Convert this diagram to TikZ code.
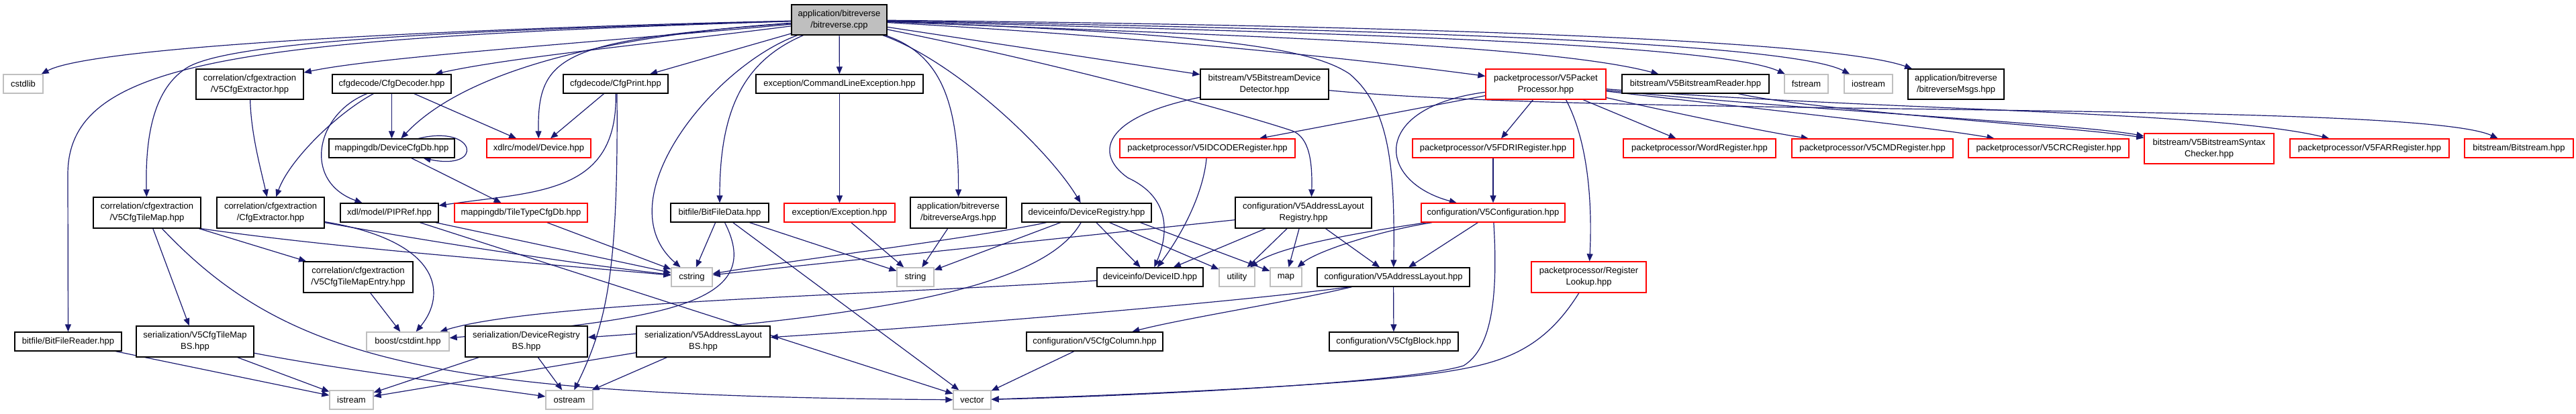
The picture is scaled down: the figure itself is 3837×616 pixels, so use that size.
\documentclass[tikz,border=0pt]{standalone}
\usepackage{fontspec}
\setmainfont{Liberation Sans}
\usetikzlibrary{arrows.meta,calc}
\pgfdeclarelayer{bg}
\pgfsetlayers{bg,main}
\definecolor{edgec}{HTML}{191970}
\definecolor{grayb}{HTML}{BFBFBF}
\definecolor{redb}{HTML}{FF0000}
\begin{document}
\begin{tikzpicture}[x=0.5pt,y=-0.5pt,
 nd/.style={draw=black,line width=0.65pt,fill=white,inner sep=0pt,align=center,font=\fontsize{6.5pt}{8.5pt}\selectfont},
 sys/.style={nd,draw=grayb},
 trunc/.style={nd,draw=redb},
 sz/.style 2 args={minimum width=#1*0.5pt,minimum height=#2*0.5pt},
 ed/.style={draw=edgec,line width=0.6pt,-{Triangle[length=5.5pt,width=4.5pt]}}]
\useasboundingbox (0,0) rectangle (3837,616);
% row 0
\node[nd,fill=grayb,sz={142}{45}] (root) at (1250,29.5) {application/bitreverse\\/bitreverse.cpp};
% row 1
\node[sys,sz={59}{28}] (cstdlib) at (34.5,125) {cstdlib};
\node[nd,sz={160}{45}] (cfgext5) at (372,125.5) {correlation/cfgextraction\\/V5CfgExtractor.hpp};
\node[nd,sz={177}{28}] (cfgdec) at (583.5,125) {cfgdecode/CfgDecoder.hpp};
\node[nd,sz={156}{28}] (cfgprint) at (917,125) {cfgdecode/CfgPrint.hpp};
\node[nd,sz={249}{28}] (cmdexc) at (1250.5,125) {exception/CommandLineException.hpp};
\node[nd,sz={191}{45}] (detector) at (1883.5,125.5) {bitstream/V5BitstreamDevice\\Detector.hpp};
\node[trunc,sz={179}{45}] (pktproc) at (2302.5,125.5) {packetprocessor/V5Packet\\Processor.hpp};
\node[nd,sz={219}{28}] (reader) at (2525.5,125) {bitstream/V5BitstreamReader.hpp};
\node[sys,sz={65}{28}] (fstream) at (2690.5,125) {fstream};
\node[sys,sz={72}{28}] (iostream) at (2783,125) {iostream};
\node[nd,sz={143}{45}] (msgs) at (2913.5,125.5) {application/bitreverse\\/bitreverseMsgs.hpp};
% row 2
\node[nd,sz={187}{28}] (devcfgdb) at (583.5,221) {mappingdb/DeviceCfgDb.hpp};
\node[trunc,sz={155}{28}] (device) at (802.5,221) {xdlrc/model/Device.hpp};
\node[trunc,sz={261}{28}] (idcode) at (1798.5,221) {packetprocessor/V5IDCODERegister.hpp};
\node[trunc,sz={240}{28}] (fdri) at (2224,221) {packetprocessor/V5FDRIRegister.hpp};
\node[trunc,sz={227}{28}] (wordreg) at (2531.5,221) {packetprocessor/WordRegister.hpp};
\node[trunc,sz={240}{28}] (cmdreg) at (2789,221) {packetprocessor/V5CMDRegister.hpp};
\node[trunc,sz={239}{28}] (crcreg) at (3051.5,221) {packetprocessor/V5CRCRegister.hpp};
\node[trunc,sz={193}{45}] (syntax) at (3290.5,221.5) {bitstream/V5BitstreamSyntax\\Checker.hpp};
\node[trunc,sz={237}{28}] (farreg) at (3529.5,221) {packetprocessor/V5FARRegister.hpp};
\node[trunc,sz={162}{28}] (bitstream) at (3752,221) {bitstream/Bitstream.hpp};
% row 3
\node[nd,sz={160}{46}] (tilemap) at (219,317) {correlation/cfgextraction\\/V5CfgTileMap.hpp};
\node[nd,sz={160}{46}] (cfgextr) at (403,317) {correlation/cfgextraction\\/CfgExtractor.hpp};
\node[nd,sz={146}{28}] (pipref) at (580,317) {xdl/model/PIPRef.hpp};
\node[trunc,sz={198}{28}] (tiletype) at (776,317) {mappingdb/TileTypeCfgDb.hpp};
\node[nd,sz={146}{28}] (bfdata) at (1072,317) {bitfile/BitFileData.hpp};
\node[trunc,sz={165}{28}] (exc) at (1250.5,317) {exception/Exception.hpp};
\node[nd,sz={143}{46}] (args) at (1427.5,317) {application/bitreverse\\/bitreverseArgs.hpp};
\node[nd,sz={193}{28}] (devreg) at (1618.5,317) {deviceinfo/DeviceRegistry.hpp};
\node[nd,sz={203}{46}] (alreg) at (1941.5,317) {configuration/V5AddressLayout\\Registry.hpp};
\node[trunc,sz={214}{28}] (v5conf) at (2224,317) {configuration/V5Configuration.hpp};
\node[trunc,sz={171}{46}] (reglookup) at (2366.5,413) {packetprocessor/Register\\Lookup.hpp};
% row 4
\node[nd,sz={163}{46}] (tmentry) at (533.5,413) {correlation/cfgextraction\\/V5CfgTileMapEntry.hpp};
\node[sys,sz={61}{28}] (cstring) at (1030.5,413) {cstring};
\node[sys,sz={55}{28}] (string) at (1363.5,413) {string};
\node[nd,sz={158}{28}] (devid) at (1713,413) {deviceinfo/DeviceID.hpp};
\node[sys,sz={53}{28}] (utility) at (1842.5,413) {utility};
\node[sys,sz={47}{28}] (map) at (1915.5,413) {map};
\node[nd,sz={227}{28}] (addrlayout) at (2075.5,413) {configuration/V5AddressLayout.hpp};
% row 5
\node[nd,sz={159}{28}] (bfreader) at (101.5,509) {bitfile/BitFileReader.hpp};
\node[nd,sz={175}{46}] (tmbs) at (290.5,509) {serialization/V5CfgTileMap\\BS.hpp};
\node[sys,sz={123}{28}] (boost) at (607.5,509) {boost/cstdint.hpp};
\node[nd,sz={182}{46}] (drbs) at (784,509) {serialization/DeviceRegistry\\BS.hpp};
\node[nd,sz={199}{46}] (albs) at (1047.5,509) {serialization/V5AddressLayout\\BS.hpp};
\node[nd,sz={203}{28}] (cfgcol) at (1630.5,509) {configuration/V5CfgColumn.hpp};
\node[nd,sz={192}{28}] (cfgblock) at (2076,509) {configuration/V5CfgBlock.hpp};
% row 6
\node[sys,sz={65}{28}] (istream) at (523.5,596) {istream};
\node[sys,sz={70}{28}] (ostream) at (848,596) {ostream};
\node[sys,sz={56}{28}] (vector) at (1448,596) {vector};

\begin{pgfonlayer}{bg}
\fill[white] (0,0) rectangle (3837,616);
% root
\draw[ed] (root) .. controls (700,42) and (140,68) .. (cstdlib);
\draw[ed] (root) .. controls (900,62) and (560,85) .. (cfgext5);
\draw[ed] (root) .. controls (700,45) and (350,60) .. (280,100) .. controls (230,130) and (216,200) .. (tilemap);
\draw[ed] (root) .. controls (350,58) and (101,90) .. (101,260) -- (bfreader);
\draw[ed] (root) .. controls (1000,62) and (760,85) .. (cfgdec);
\draw[ed] (root) .. controls (800,60) and (660,140) .. (devcfgdb);
\draw[ed] (root) .. controls (840,60) and (800,80) .. (device);
\draw[ed] (root) -- (cfgprint);
\draw[ed] (root) -- (cmdexc);
\draw[ed] (root) .. controls (1110,90) and (1072,160) .. (bfdata);
\draw[ed] (root) .. controls (1060,100) and (900,300) .. (cstring);
\draw[ed] (root) .. controls (1400,80) and (1428,150) .. (args);
\draw[ed] (root) .. controls (1420,90) and (1560,220) .. (devreg);
\draw[ed] (root) .. controls (1600,100) and (1850,170) .. (1925,195) .. controls (1950,205) and (1955,240) .. ($(alreg.north)+(12,0)$);
\draw[ed] (root) -- (detector);
\draw[ed] (root) .. controls (1800,50) and (1950,70) .. (2010,110) .. controls (2070,160) and (2078,250) .. (addrlayout);
\draw[ed] (root) .. controls (1700,55) and (2000,85) .. (pktproc);
\draw[ed] (root) .. controls (1800,52) and (2300,65) .. (reader);
\draw[ed] (root) .. controls (1800,45) and (2550,60) .. (fstream);
\draw[ed] (root) .. controls (1800,40) and (2650,55) .. (iostream);
\draw[ed] (root) .. controls (1800,35) and (2700,50) .. (msgs);
% others
\draw[ed] (cfgext5) .. controls (374,200) and (388,250) .. (cfgextr);
\draw[ed] (cfgdec) -- (devcfgdb);
\draw[ed] (cfgdec) -- (device);
\draw[ed] (cfgdec) .. controls (500,170) and (430,240) .. (cfgextr);
\draw[ed] (cfgdec) .. controls (470,170) and (450,270) .. (pipref);
\draw[ed] ($(devcfgdb.north)+(40,0)$) .. controls (710,185) and (722,255) .. ($(devcfgdb.south)+(47,0)$);
\draw[ed] (devcfgdb) -- (tiletype);
\draw[ed] (cfgprint) -- (device);
\draw[ed] (cfgprint) .. controls (920,290) and (800,285) .. (pipref);
\draw[ed] ($(cfgprint.south)+(2,0)$) .. controls (921,400) and (905,480) .. (ostream);
\draw[ed] (cmdexc) -- (exc);
\draw[ed] (detector) .. controls (1640,175) and (1630,230) .. (1680,265) .. controls (1745,295) and (1740,350) .. (devid);
\draw[ed] (detector) .. controls (2400,175) and (3600,150) .. (bitstream);
\draw[ed] (pktproc) -- (idcode);
\draw[ed] (pktproc) -- (fdri);
\draw[ed] (pktproc) -- (wordreg);
\draw[ed] (pktproc) .. controls (2480,165) and (2620,195) .. (cmdreg);
\draw[ed] (pktproc) .. controls (2600,160) and (2880,190) .. (crcreg);
\draw[ed] (pktproc) .. controls (2700,165) and (3100,185) .. (syntax);
\draw[ed] (pktproc) .. controls (2800,165) and (3300,165) .. (farreg);
\draw[ed] (pktproc) .. controls (2040,160) and (2050,270) .. (v5conf);
\draw[ed] ($(pktproc.south)+(30,0)$) .. controls (2365,210) and (2372,300) .. (reglookup);
\draw[ed] (reader) .. controls (2700,165) and (3100,190) .. (syntax);
\draw[ed] (idcode) .. controls (1792,290) and (1760,350) .. (devid);
\draw[ed] (fdri) -- (v5conf);
\draw[ed] (tilemap) -- (tmbs);
\draw[ed] (tilemap) -- (tmentry);
\draw[ed] (tilemap.south east) .. controls (500,370) and (800,392) .. (cstring);
\draw[ed] (tilemap) .. controls (430,540) and (650,590) .. (vector);
\draw[ed] (cfgextr) .. controls (650,362) and (850,392) .. (cstring);
\draw[ed] (cfgextr) .. controls (660,360) and (665,440) .. (boost);
\draw[ed] (pipref) -- (cstring);
\draw[ed] (pipref) -- (vector);
\draw[ed] (tiletype) -- (cstring);
\draw[ed] (bfdata) -- (cstring);
\draw[ed] (bfdata) .. controls (1140,450) and (1000,475) .. (boost);
\draw[ed] (bfdata) -- (vector);
\draw[ed] (bfdata) -- (string);
\draw[ed] (exc) -- (string);
\draw[ed] (args) -- (string);
\draw[ed] (devreg) -- (string);
\draw[ed] ($(devreg.south)+(-60,0)$) .. controls (1450,355) and (1200,385) .. (cstring);
\draw[ed] (devreg) -- (devid);
\draw[ed] (devreg) -- (utility);
\draw[ed] ($(devreg.south)+(80,0)$) -- (map);
\draw[ed] (devreg) .. controls (1560,420) and (1350,470) .. (drbs);
\draw[ed] (alreg) -- (cstring);
\draw[ed] (alreg) -- (devid);
\draw[ed] (alreg) -- (utility);
\draw[ed] (alreg) -- (map);
\draw[ed] (alreg) -- (addrlayout);
\draw[ed] (v5conf) .. controls (2000,350) and (1900,370) .. (utility);
\draw[ed] (v5conf) .. controls (2050,345) and (1960,375) .. (map);
\draw[ed] (v5conf) -- (addrlayout);
\draw[ed] (v5conf) .. controls (2232,450) and (2220,520) .. (2180,545) .. controls (2100,570) and (1700,590) .. (vector);
\draw[ed] (reglookup) .. controls (2300,520) and (2240,540) .. (2160,553) .. controls (2050,572) and (1700,588) .. (vector);
\draw[ed] (devid) .. controls (1300,440) and (800,450) .. (boost);
\draw[ed] (tmentry) -- (boost);
\draw[ed] ($(addrlayout.south)+(-65,0)$) .. controls (1800,455) and (1350,490) .. (albs);
\draw[ed] ($(addrlayout.south)+(-62,0)$) .. controls (1920,450) and (1760,475) .. (cfgcol);
\draw[ed] (addrlayout) -- (cfgblock);
\draw[ed] (cfgcol) -- (vector);
\draw[ed] (bfreader) -- (istream);
\draw[ed] (tmbs) -- (istream);
\draw[ed] (tmbs) .. controls (500,550) and (700,575) .. (ostream);
\draw[ed] (drbs) -- (istream);
\draw[ed] (drbs) -- (ostream);
\draw[ed] (albs) -- (istream);
\draw[ed] (albs) -- (ostream);
\end{pgfonlayer}
\end{tikzpicture}
\end{document}
